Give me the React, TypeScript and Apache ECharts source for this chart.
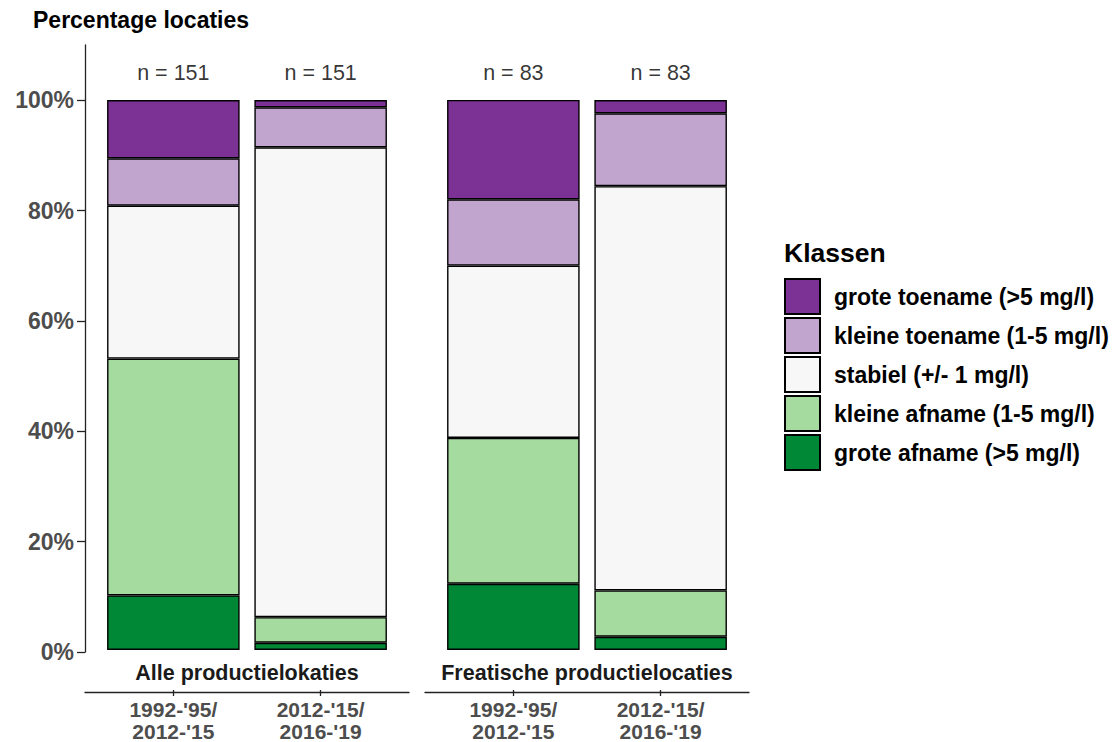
import React, { useEffect, useRef } from "react";
import * as echarts from "echarts";

const classes = [
  "grote toename (>5 mg/l)",
  "kleine toename (1-5 mg/l)",
  "stabiel (+/- 1 mg/l)",
  "kleine afname (1-5 mg/l)",
  "grote afname (>5 mg/l)",
];
const classColors = ["#7B3294", "#C2A5CF", "#F7F7F7", "#A6DBA0", "#008837"];
const periods = ["1992-'95/\n2012-'15", "2012-'15/\n2016-'19"];
const facets = ["Alle productielokaties", "Freatische productielocaties"];
const nAlle = [151, 151];
const nFreatisch = [83, 83];
const yTicks = [0, 20, 40, 60, 80, 100];

// percentages, rows in order of classes (top to bottom), columns = periods
const alle = [
  [10.6, 1.32],
  [8.61, 7.28],
  [27.81, 85.43],
  [43.05, 4.64],
  [9.93, 1.32],
];
const freatisch = [
  [18.07, 2.41],
  [12.05, 13.25],
  [31.33, 73.49],
  [26.51, 8.43],
  [12.05, 2.41],
];
const nLabelY = 105;

const FONT = "Liberation Sans, Arial, Helvetica, sans-serif";

export default function App() {
  const ref = useRef<HTMLDivElement>(null);
  useEffect(() => {
    if (!ref.current) return;
    const chart = echarts.init(ref.current, null, { renderer: "svg" });
    const facetData = [alle, freatisch];
    const facetN = [nAlle, nFreatisch];

    const outerLeft = [85, 425];
    const panelW = 324;
    const unit = panelW / 2.2;
    const top = 45;
    const bottom = 90;

    const grids: any[] = [];
    const xAxes: any[] = [];
    const yAxes: any[] = [];
    const series: any[] = [];

    const axisLineStyle = { color: "#222", width: 1.3 };

    facetData.forEach((fd, g) => {
      const outerIdx = g * 2;
      const innerIdx = g * 2 + 1;
      grids.push({ left: outerLeft[g], width: panelW, top, bottom });
      grids.push({ left: outerLeft[g] + 0.1 * unit, width: 2 * unit, top, bottom });

      // outer panel: axis line only
      xAxes.push({
        type: "value",
        gridIndex: outerIdx,
        min: 0,
        max: 1,
        offset: 40,
        position: "bottom",
        splitLine: { show: false },
        axisLine: { show: true, onZero: false, lineStyle: axisLineStyle },
        axisTick: { show: false },
        axisLabel: { show: false },
      });
      const barXIdx = xAxes.length;
      xAxes.push({
        type: "category",
        gridIndex: innerIdx,
        data: periods,
        offset: 40,
        position: "bottom",
        axisLine: { show: false, onZero: false },
        axisTick: { show: true, alignWithLabel: true, length: 6, lineStyle: axisLineStyle },
        splitLine: { show: false },
        axisLabel: {
          fontFamily: FONT,
          fontWeight: "bold",
          fontSize: 21,
          lineHeight: 22,
          color: "#4D4D4D",
          margin: 8,
        },
      });
      xAxes.push({
        type: "category",
        gridIndex: innerIdx,
        data: [facets[g]],
        position: "bottom",
        offset: 0,
        axisLine: { show: false, onZero: false },
        axisTick: { show: false },
        splitLine: { show: false },
        axisLabel: {
          fontFamily: FONT,
          fontWeight: "bold",
          fontSize: 21.5,
          lineHeight: 22,
          color: "#1A1A1A",
          margin: 12,
        },
      });

      yAxes.push({
        type: "value",
        gridIndex: outerIdx,
        min: 0,
        max: 110,
        show: g === 0,
        splitLine: { show: false },
        axisLine: { show: true, onZero: false, lineStyle: axisLineStyle },
        axisTick: { show: true, customValues: yTicks, length: 8, lineStyle: axisLineStyle },
        axisLabel: {
          customValues: yTicks,
          formatter: (v: number) => v + "%",
          fontFamily: FONT,
          fontWeight: "bold",
          fontSize: 23,
          color: "#4D4D4D",
          margin: 11,
        },
      });
      const barYIdx = yAxes.length;
      yAxes.push({
        type: "value",
        gridIndex: innerIdx,
        min: 0,
        max: 110,
        show: false,
        splitLine: { show: false },
      });

      // bottom first
      for (let i = classes.length - 1; i >= 0; i--) {
        series.push({
          type: "bar",
          name: classes[i],
          xAxisIndex: barXIdx,
          yAxisIndex: barYIdx,
          stack: "facet" + g,
          barWidth: "90%",
          itemStyle: { color: classColors[i], borderColor: "#000", borderWidth: 1.4 },
          data: fd[i],
        });
      }
      series.push({
        type: "scatter",
        name: "n" + g,
        xAxisIndex: barXIdx,
        yAxisIndex: barYIdx,
        symbolSize: 0,
        silent: true,
        label: {
          show: true,
          position: "inside",
          formatter: (p: any) => "n = " + facetN[g][p.dataIndex],
          fontFamily: FONT,
          fontSize: 21.5,
          color: "#000",
        },
        data: facetN[g].map(() => nLabelY),
      });
    });

    chart.setOption({
      animation: false,
      title: [
        {
          text: "Percentage locaties",
          left: 33,
          top: 8,
          padding: 0,
          textStyle: { fontFamily: FONT, fontWeight: "bold", fontSize: 23, lineHeight: 24, color: "#000" },
        },
        {
          text: "Klassen",
          left: 784,
          top: 239,
          padding: 0,
          textStyle: { fontFamily: FONT, fontWeight: "bold", fontSize: 26.5, lineHeight: 28, color: "#000" },
        },
      ],
      legend: {
        data: classes,
        orient: "vertical",
        left: 784,
        top: 278,
        padding: 0,
        itemWidth: 35,
        itemHeight: 35,
        itemGap: 2,
        icon: "rect",
        selectedMode: false,
        textStyle: {
          fontFamily: FONT,
          fontWeight: "bold",
          fontSize: 23,
          color: "#000",
          padding: [0, 0, 0, 9],
        },
      },
      grid: grids,
      xAxis: xAxes,
      yAxis: yAxes,
      series,
    });
    return () => chart.dispose();
  }, []);
  return (
    <div
      ref={ref}
      style={{ position: "absolute", left: 0, top: 0, width: 1119, height: 742, background: "#fff" }}
    />
  );
}
